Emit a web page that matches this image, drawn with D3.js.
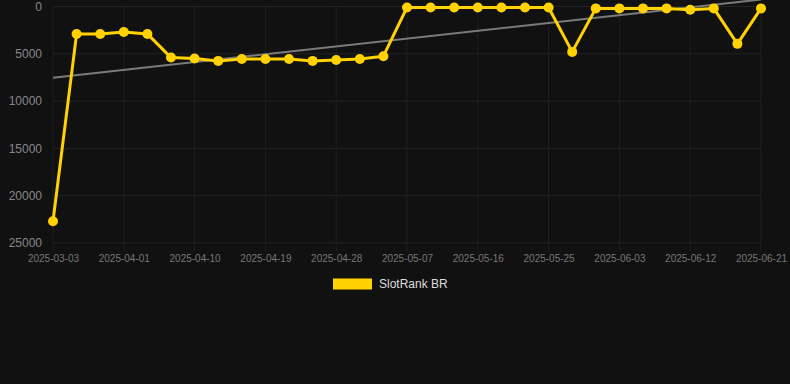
<!DOCTYPE html>
<html><head><meta charset="utf-8">
<script src="https://cdn.jsdelivr.net/npm/d3@7"></script>
<style>html,body{margin:0;padding:0;background:#111111;}svg{display:block;}</style>
</head><body>
<svg id="c" width="790" height="384"></svg>
<script>
const dates = ["2025-03-03","2025-03-26","2025-03-29","2025-04-01","2025-04-04","2025-04-07","2025-04-10","2025-04-13","2025-04-16","2025-04-19","2025-04-22","2025-04-25","2025-04-28","2025-05-01","2025-05-04","2025-05-07","2025-05-10","2025-05-13","2025-05-16","2025-05-19","2025-05-22","2025-05-25","2025-05-28","2025-05-31","2025-06-03","2025-06-06","2025-06-09","2025-06-12","2025-06-15","2025-06-18","2025-06-21"];
const rankValues = [22700,2900,2900,2700,2900,5400,5500,5750,5550,5550,5550,5750,5650,5550,5250,100,100,100,100,100,100,100,4800,200,200,200,200,350,200,3950,200];
const trendValues = [7530,-740];
const yTicks = [0,5000,10000,15000,20000,25000];
const seriesName = "SlotRank BR";

(function(){
const svg = d3.select("#c");
const pL = 53, pR = 761, pT = 6.5, pB = 243;
const x = d3.scalePoint().domain(dates).range([pL,pR]);
const y = d3.scaleLinear().domain([0,25000]).range([pT,pB]);
const font = "Liberation Sans, Arial, Helvetica, sans-serif";

const tickDates = dates.filter((d,i)=>i%3===0);
const g = svg.append("g");
g.selectAll(".hg").data(yTicks).join("line")
  .attr("x1",pL).attr("x2",pR).attr("y1",d=>y(d)).attr("y2",d=>y(d))
  .attr("stroke","#232323").attr("stroke-width",1);
g.selectAll(".vg").data(tickDates).join("line")
  .attr("x1",d=>x(d)).attr("x2",d=>x(d)).attr("y1",pT).attr("y2",pB+8)
  .attr("stroke","#1f1f1f").attr("stroke-width",1);

const ya = svg.append("g").attr("transform",`translate(${pL-11},0)`)
  .call(d3.axisLeft(y).tickValues(yTicks).tickSize(0).tickPadding(0).tickFormat(d3.format("d")));
ya.select(".domain").remove();
ya.selectAll("text").attr("fill","#888").style("font-family",font).style("font-size","12px");

const xa = svg.append("g").attr("transform",`translate(0,${pB+12})`)
  .call(d3.axisBottom(x).tickValues(tickDates).tickSize(0).tickPadding(0));
xa.select(".domain").remove();
xa.selectAll("text").attr("fill","#777").attr("dy","0.71em").style("font-family",font).style("font-size","10px");

svg.append("line")
  .attr("x1",x(dates[0])).attr("y1",y(trendValues[0]))
  .attr("x2",x(dates[dates.length-1])).attr("y2",y(trendValues[1]))
  .attr("stroke","#7a7a7a").attr("stroke-width",2);

const data = dates.map((d,i)=>({d,v:rankValues[i]}));
svg.append("path").datum(data)
  .attr("fill","none").attr("stroke","#FFD200").attr("stroke-width",3).attr("stroke-linejoin","round")
  .attr("d",d3.line().x(p=>x(p.d)).y(p=>y(p.v)));
svg.selectAll(".pt").data(data).join("circle")
  .attr("cx",p=>x(p.d)).attr("cy",p=>y(p.v)).attr("r",5)
  .attr("fill","#FFD200");

svg.append("rect").attr("x",333).attr("y",278.5).attr("width",39).attr("height",11).attr("fill","#FFD200");
svg.append("text").attr("x",379).attr("y",284).attr("dy","0.35em").text(seriesName)
  .attr("fill","#dddddd").style("font-family",font).style("font-size","12px");
})();
</script>
</body></html>
